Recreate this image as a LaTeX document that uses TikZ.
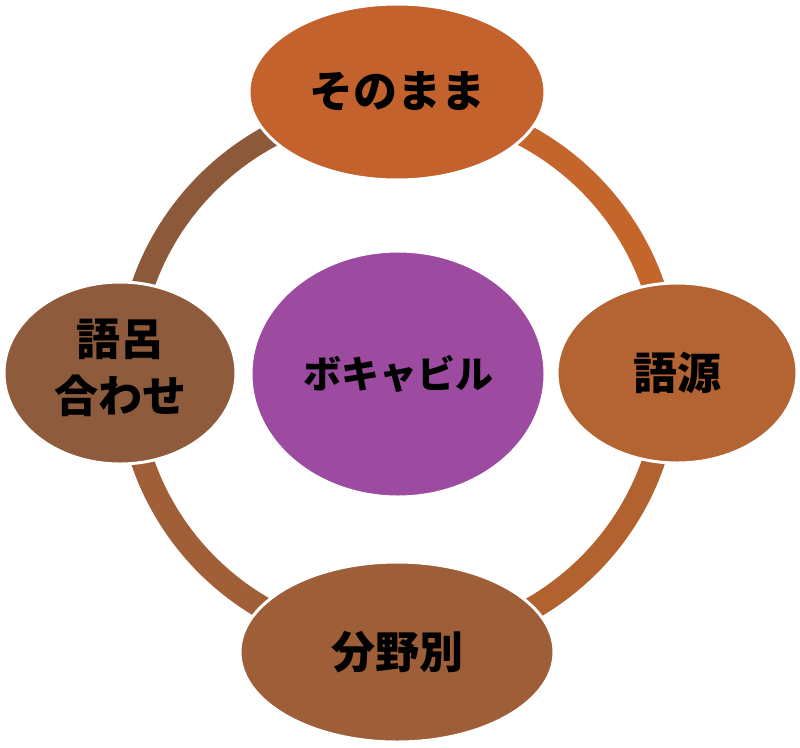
\documentclass[tikz,border=0pt]{standalone}
\usepackage{fontspec}
\newfontfamily\jp{Noto Sans CJK JP}
\usetikzlibrary{shapes.geometric}
\definecolor{segTL}{RGB}{140,90,58}
\definecolor{segTR}{RGB}{196,101,44}
\definecolor{segBR}{RGB}{178,98,47}
\definecolor{segBL}{RGB}{160,95,55}
\definecolor{ellTop}{RGB}{196,98,45}
\definecolor{ellRight}{RGB}{180,100,50}
\definecolor{ellBottom}{RGB}{157,94,56}
\definecolor{ellLeft}{RGB}{142,91,61}
\definecolor{ellCenter}{RGB}{156,75,160}
\tikzset{
  bubble/.style={ellipse, draw=white, line width=3pt, inner sep=0pt, align=center,
    font=\jp\bfseries\fontsize{44}{56}\selectfont, text=black},
  ringseg/.style={line width=23pt}
}
\begin{document}
\begin{tikzpicture}[x=1pt,y=-1pt]
\useasboundingbox[fill=white] (0,0) rectangle (800,747);
\coordinate (c) at (398,374);
\draw[ringseg, segTL] (c) ++(180:270) arc[start angle=180, end angle=270, radius=270];
\draw[ringseg, segTR] (c) ++(270:270) arc[start angle=270, end angle=360, radius=270];
\draw[ringseg, segBR] (c) ++(0:270) arc[start angle=0, end angle=90, radius=270];
\draw[ringseg, segBL] (c) ++(90:270) arc[start angle=90, end angle=180, radius=270];
\node[bubble, fill=ellTop, minimum width=296pt, minimum height=176pt] (top) at (397,92) {\raisebox{4pt}{そのまま}};
\node[bubble, fill=ellRight, minimum width=240pt, minimum height=180pt] (right) at (677,373) {\raisebox{5pt}{語源}};
\node[bubble, fill=ellBottom, minimum width=314pt, minimum height=180pt] (bottom) at (397,652) {\raisebox{4pt}{分野別}};
\node[bubble, fill=ellLeft, minimum width=232pt, minimum height=182pt] (left) at (120,373) {\raisebox{4pt}{\begin{tabular}{@{}c@{}}語呂\\[1pt]合わせ\end{tabular}}};
\node[bubble, fill=ellCenter, minimum width=294pt, minimum height=246pt,
  font=\jp\bfseries\fontsize{38}{46}\selectfont] (center) at (398,374) {\raisebox{5pt}{ボキャビル}};
\end{tikzpicture}
\end{document}
